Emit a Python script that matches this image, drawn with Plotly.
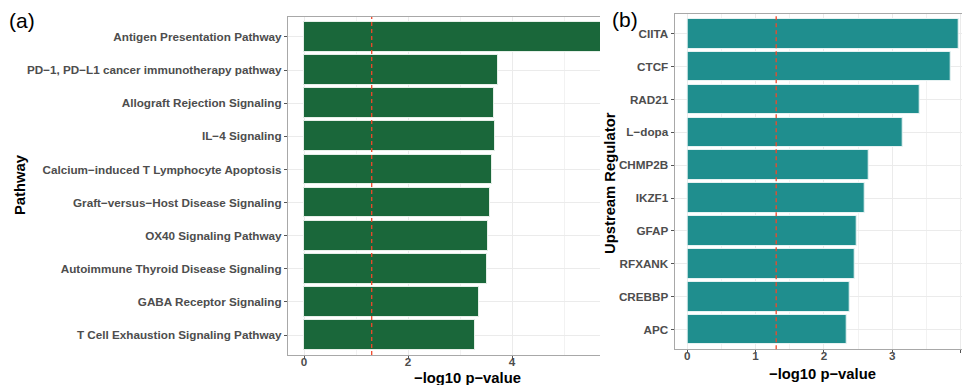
import plotly.graph_objects as go

# ---- data ----
pathways = [
    "Antigen Presentation Pathway",
    "PD−1, PD−L1 cancer immunotherapy pathway",
    "Allograft Rejection Signaling",
    "IL−4 Signaling",
    "Calcium−induced T Lymphocyte Apoptosis",
    "Graft−versus−Host Disease Signaling",
    "OX40 Signaling Pathway",
    "Autoimmune Thyroid Disease Signaling",
    "GABA Receptor Signaling",
    "T Cell Exhaustion Signaling Pathway",
]
pathway_vals = [6.15, 3.72, 3.66, 3.67, 3.62, 3.58, 3.53, 3.51, 3.37, 3.29]

regulators = ["CIITA", "CTCF", "RAD21", "L−dopa", "CHMP2B", "IKZF1", "GFAP", "RFXANK", "CREBBP", "APC"]
regulator_vals = [3.97, 3.85, 3.40, 3.15, 2.66, 2.60, 2.48, 2.45, 2.37, 2.34]

threshold = 1.30103  # -log10(0.05)

W, H = 962, 385
FONT = "Liberation Sans, Arial, Helvetica, sans-serif"
TICKC = "#4D4D4D"
GRID = "#EBEBEB"
BORDER = "#A8A8A8"
GREEN = "#1A673A"
TEAL = "#1F8E8E"
RED = "#F2482A"

fig = go.Figure()

fig.add_trace(go.Bar(
    x=pathway_vals, y=pathways, orientation="h", width=0.9,
    marker=dict(color=GREEN, line=dict(color="#E6EFE8", width=1)),
    xaxis="x", yaxis="y", showlegend=False,
))
fig.add_trace(go.Bar(
    x=regulator_vals, y=regulators, orientation="h", width=0.9,
    marker=dict(color=TEAL, line=dict(color="#E6F2F2", width=1)),
    xaxis="x2", yaxis="y2", showlegend=False,
))

def px_x(p):
    return p / W

def px_y(p):
    return 1 - p / H

tickfont = dict(family=FONT, size=11.7, color=TICKC, weight="bold")

common_x = dict(
    showgrid=True, gridcolor=GRID, gridwidth=1.1, zeroline=False,
    showline=True, linecolor=BORDER, linewidth=1.2, mirror=True,
    ticks="outside", ticklen=3, tickcolor="#555555", tickwidth=1,
    ticklabelstandoff=-7,
    tickfont=tickfont,
)
common_y = dict(
    type="category", showgrid=True, gridcolor=GRID, gridwidth=1.1, zeroline=False,
    showline=True, linecolor=BORDER, linewidth=1.2, mirror=False,
    ticks="outside", ticklen=3, tickcolor="#555555", tickwidth=1,
    tickfont=tickfont,
)

fig.update_layout(
    width=W, height=H,
    margin=dict(l=0, r=0, t=0, b=0),
    paper_bgcolor="white", plot_bgcolor="white",
    font=dict(family=FONT),
    bargap=0,
    xaxis=dict(
        domain=[px_x(288), px_x(600)], anchor="y",
        range=[-0.308, 5.69], tickvals=[0, 2, 4], ticktext=["0", "2", "4"],
        minor=dict(dtick=1, tick0=0, showgrid=True, gridcolor="#F2F2F2", gridwidth=0.6),
        **common_x,
    ),
    yaxis=dict(
        domain=[px_y(355), px_y(17)], anchor="x",
        categoryorder="array", categoryarray=pathways[::-1],
        range=[-0.6, 9.6],
        **common_y,
    ),
    xaxis2=dict(
        domain=[px_x(674.7), 1.0], anchor="y2",
        range=[-0.184, 4.02], tickvals=[0, 1, 2, 3, 4], ticktext=["0", "1", "2", "3", "4"],
        minor=dict(dtick=0.5, tick0=0, showgrid=True, gridcolor="#F2F2F2", gridwidth=0.6),
        **common_x,
    ),
    yaxis2=dict(
        domain=[px_y(349.3), px_y(14)], anchor="x2",
        categoryorder="array", categoryarray=regulators[::-1],
        range=[-0.6, 9.6],
        **common_y,
    ),
)

# threshold lines
fig.add_shape(type="line", xref="x", yref="y domain", x0=threshold, x1=threshold, y0=0, y1=1,
              line=dict(color=RED, width=1.3, dash="4px,3px"))
fig.add_shape(type="line", xref="x2", yref="y2 domain", x0=threshold, x1=threshold, y0=0, y1=1,
              line=dict(color=RED, width=1.3, dash="4px,3px"))

title_font = dict(family=FONT, size=14.8, color="black", weight="bold")
ann = [
    dict(text="−log10 p−value", x=px_x(467), y=px_y(378), font=title_font),
    dict(text="−log10 p−value", x=px_x(822), y=px_y(374), font=title_font),
    dict(text="Pathway", x=px_x(20), y=px_y(185), font=title_font, textangle=-90),
    dict(text="Upstream Regulator", x=px_x(610), y=px_y(183), font=title_font, textangle=-90),
    dict(text="(a)", x=px_x(22), y=px_y(20), font=dict(family=FONT, size=21, color="black")),
    dict(text="(b)", x=px_x(625), y=px_y(19), font=dict(family=FONT, size=21, color="black")),
]
for a in ann:
    fig.add_annotation(xref="paper", yref="paper", xanchor="center", yanchor="middle",
                       showarrow=False, **a)

fig.write_html(
    "out.html",
    config={"displayModeBar": False},
    post_script="document.body.style.margin='0';document.body.style.overflow='hidden';",
)
